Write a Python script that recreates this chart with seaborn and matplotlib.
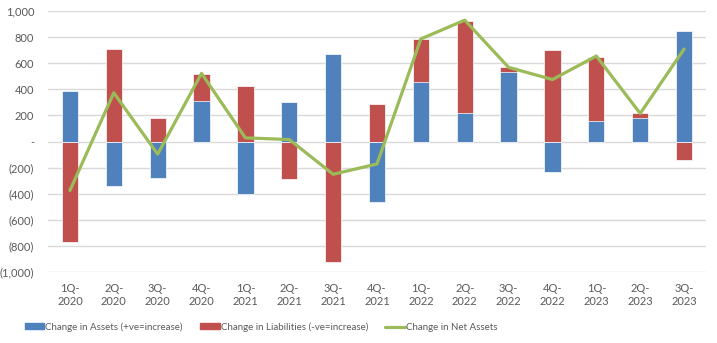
import numpy as np
import pandas as pd
import matplotlib
matplotlib.use("Agg")
import matplotlib.pyplot as plt
import seaborn as sns
from matplotlib.ticker import FuncFormatter
from matplotlib.patches import Patch
from matplotlib.lines import Line2D

quarters = ["1Q-\n2020", "2Q-\n2020", "3Q-\n2020", "4Q-\n2020",
            "1Q-\n2021", "2Q-\n2021", "3Q-\n2021", "4Q-\n2021",
            "1Q-\n2022", "2Q-\n2022", "3Q-\n2022", "4Q-\n2022",
            "1Q-\n2023", "2Q-\n2023", "3Q-\n2023"]
assets = [387, -341, -280, 310, -405, 303, 672, -464, 456, 215, 536, -236, 156, 180, 849]
liabilities = [-772, 710, 180, 208, 426, -290, -925, 287, 331, 711, 36, 703, 493, 38, -144]
net_assets = [-375, 373, -97, 522, 28, 15, -251, -172, 786, 930, 568, 475, 655, 215, 708]

BLUE = "#4F81BD"
RED = "#C0504D"
GREEN = "#9BBB59"

sns.set_style("white")
plt.rcParams["font.family"] = ["Lato", "DejaVu Sans"]

# red bars stacked on top of blue when same sign
red_top = [l + (a if np.sign(a) == np.sign(l) else 0) for a, l in zip(assets, liabilities)]
df = pd.DataFrame({"q": quarters, "assets": assets, "red_top": red_top})

fig = plt.figure(figsize=(7.17, 3.43), dpi=100)
ax = fig.add_axes([48 / 717, 1 - 272 / 343, (706 - 48) / 717, (272 - 11) / 343])

sns.barplot(data=df, x="q", y="red_top", color=RED, saturation=1, width=0.37,
            ax=ax, edgecolor="white", linewidth=0.5, zorder=3)
sns.barplot(data=df, x="q", y="assets", color=BLUE, saturation=1, width=0.37,
            ax=ax, edgecolor="white", linewidth=0.5, zorder=3)
sns.lineplot(x=np.arange(len(quarters)), y=net_assets, color=GREEN, linewidth=2.3,
             ax=ax, zorder=4)

ax.set_ylim(-1000, 1000)
ax.set_yticks(np.arange(-1000, 1001, 200))
ax.set_xlim(-0.5, len(quarters) - 0.5)

def fmt(v, pos):
    v = int(round(v))
    if v == 0:
        return "-"
    if v < 0:
        return "({:,})".format(-v)
    return "{:,}".format(v)

ax.yaxis.set_major_formatter(FuncFormatter(fmt))
ax.grid(axis="y", color="#D9D9D9", linewidth=1.0, zorder=0)
ax.set_axisbelow(True)
for s in ax.spines.values():
    s.set_visible(False)
ax.tick_params(axis="both", length=0, labelsize=8, colors="#595959")
ax.tick_params(axis="y", pad=10)
ax.tick_params(axis="x", pad=8)
ax.set_xlabel("")
ax.set_ylabel("")

handles = [Patch(color=BLUE), Patch(color=RED), Line2D([0], [0], color=GREEN, linewidth=2.3)]
labels = ["Change in Assets (+ve=increase)", "Change in Liabilities (-ve=increase)",
          "Change in Net Assets"]
fig.legend(handles, labels, loc="center", bbox_to_anchor=(0.364, 1 - 327 / 343), ncol=3,
           frameon=False, fontsize=7.0, handlelength=2.0, handleheight=0.55,
           handletextpad=0.1, columnspacing=1.8, labelcolor="#595959")

fig.savefig("out.png", dpi=100)
